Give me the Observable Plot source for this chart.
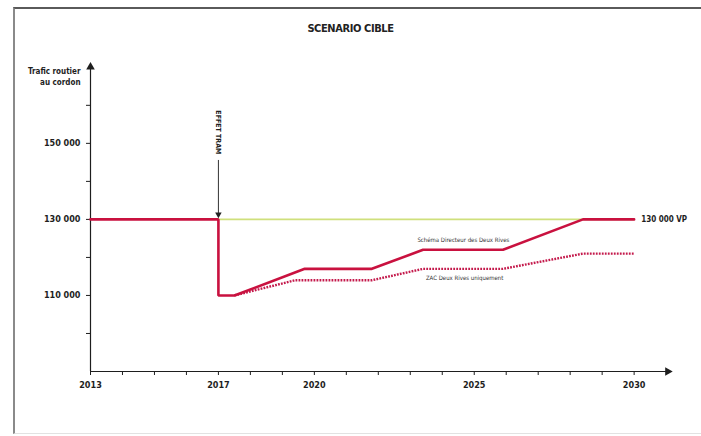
<!DOCTYPE html>
<html lang="fr">
<head>
<meta charset="utf-8">
<script src="https://cdn.jsdelivr.net/npm/d3@7"></script>
<script src="https://cdn.jsdelivr.net/npm/@observablehq/plot@0.6"></script>
<style>
  html, body { margin: 0; padding: 0; background: #fff; }
  #wrap { position: relative; width: 701px; height: 436px; overflow: hidden;
          font-family: "DejaVu Sans Condensed", "Liberation Sans Narrow", sans-serif;
          font-stretch: condensed; }
  #border { position: absolute; left: 13px; top: 7px; right: -4px; bottom: 2px;
            border-top: 2px solid #5a5a5a; border-left: 2px solid #8a8a8a;
            border-bottom: 1px solid #e2e2e2; }
  #title { position: relative; height: 40px; line-height: 58px; text-align: center;
           font-size: 11px; font-weight: bold; color: #222; letter-spacing: -0.4px; }
  #chart { position: relative; }
</style>
</head>
<body>
<div id="wrap">
  <div id="border"></div>
  <div id="title">SCENARIO CIBLE</div>
  <div id="chart"></div>
</div>
<script>
// Scénario cible : trafic routier au cordon, 2013–2030
const schemaYears   = [2013, 2017, 2017, 2017.5, 2019.7, 2021.8, 2023.4, 2025.9, 2028.4, 2030];
const schemaTraffic = [130000, 130000, 110000, 110000, 117000, 117000, 122000, 122000, 130000, 130000];

const zacYears   = [2017.5, 2019.4, 2021.8, 2023.4, 2025.9, 2028.4, 2030];
const zacTraffic = [110000, 114000, 114000, 117000, 117000, 121000, 121000];

const targetYears = [2017, 2030];
const targetTraffic = 130000;

const yearTicks = d3.range(2013, 2031);
const yearLabels = [2013, 2017, 2020, 2025, 2030];
const trafficTicks = d3.range(100000, 170000, 10000);
const trafficLabels = [110000, 130000, 150000];

const tramYear = 2017;
const seriesLabels = ["Schéma Directeur des Deux Rives", "ZAC Deux Rives uniquement"];

const schema = schemaYears.map((x, i) => ({x, y: schemaTraffic[i]}));
const zac = zacYears.map((x, i) => ({x, y: zacTraffic[i]}));
const target = targetYears.map(x => ({x, y: targetTraffic}));

const xMin = 2013, xMax = 2031.2, yMin = 90000, yMax = 171000;
const fmt = d => d3.format(",")(d).replace(/,/g, " ");
const red = "#c9113f";
const ink = "#1e1e1e";

const chart = Plot.plot({
  width: 701,
  height: 396,
  marginLeft: 90,
  marginRight: 29,
  marginTop: 23,
  marginBottom: 65,
  x: {domain: [xMin, xMax], label: null},
  y: {domain: [yMin, yMax], label: null},
  style: {
    fontFamily: '"DejaVu Sans Condensed", "Liberation Sans Narrow", sans-serif',
    fontStretch: "condensed",
    fontWeight: "bold",
    fontSize: "9px",
    color: ink,
    background: "transparent"
  },
  marks: [
    // axes with arrowheads
    Plot.ruleY([yMin], {x1: xMin, x2: xMax - 0.1, stroke: ink, strokeWidth: 1.2}),
    Plot.ruleX([xMin], {y1: yMin, y2: yMax - 800, stroke: ink, strokeWidth: 1.2}),
    Plot.dot([{x: xMax - 0.15, y: yMin}], {x: "x", y: "y", symbol: "triangle", r: 3.2, fill: ink, stroke: null, rotate: 90}),
    Plot.dot([{x: xMin, y: yMax - 900}], {x: "x", y: "y", symbol: "triangle", r: 3.2, fill: ink, stroke: null}),
    Plot.axisX({
      ticks: yearTicks, tickSize: 4, tickPadding: 6, label: null,
      tickFormat: d => yearLabels.includes(d) ? String(d) : "",
      stroke: ink, fontSize: 9
    }),
    Plot.axisY({
      ticks: trafficTicks, tickSize: 4, tickPadding: 6, label: null,
      tickFormat: d => trafficLabels.includes(d) ? fmt(d) : "",
      stroke: ink, fontSize: 9
    }),
    Plot.text(["Trafic routier\nau cordon"], {
      x: xMin, y: yMax, dx: -10, dy: 2, textAnchor: "end", lineAnchor: "top",
      lineHeight: 1.45, fontSize: 8, fill: ink
    }),
    // objectif
    Plot.line(target, {x: "x", y: "y", stroke: "#cfe07c", strokeWidth: 1.6}),
    Plot.text([targetTraffic], {
      x: targetYears[1], y: d => d, dx: 7, textAnchor: "start",
      text: d => fmt(d) + " VP", fontSize: 8, fill: ink
    }),
    // scénarios
    Plot.line(zac, {x: "x", y: "y", stroke: "#c41a4c", strokeWidth: 2.4, strokeDasharray: "1.8,1.2", strokeLinecap: "butt"}),
    Plot.line(schema, {x: "x", y: "y", stroke: red, strokeWidth: 2.6, strokeLinejoin: "miter"}),
    Plot.text([seriesLabels[0]], {x: 2024.66, y: 124500, fontSize: 6, fontWeight: "normal", fill: "#333"}),
    Plot.text([seriesLabels[1]], {x: 2024.7, y: 114700, fontSize: 6, fontWeight: "normal", fill: "#333"}),
    // effet tram
    Plot.ruleX([tramYear], {y1: 145500, y2: 131200, stroke: "#333", strokeWidth: 1}),
    Plot.dot([{x: tramYear, y: 131300}], {x: "x", y: "y", symbol: "triangle", r: 2.4, fill: "#222", stroke: null, rotate: 180}),
    Plot.text(["EFFET TRAM"], {x: tramYear, y: 152900, rotate: 90, fontSize: 7, fill: ink})
  ]
});

document.getElementById("chart").appendChild(chart);
</script>
</body>
</html>
